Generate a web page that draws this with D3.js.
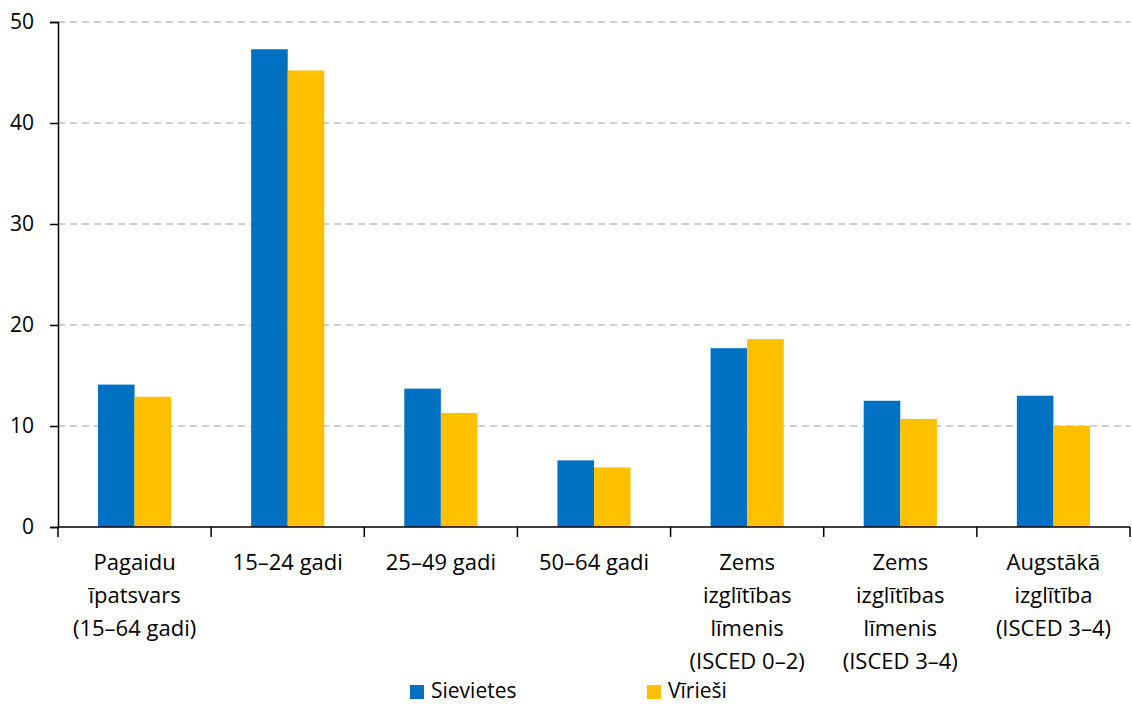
<!DOCTYPE html>
<html lang="lv">
  <head>
    <meta charset="UTF-8">
    <title>Pagaidu darbs</title>
    <style>
      body { margin: 0; background: #fff; }
      text { font-family: "Open Sans", Lato, sans-serif; fill: #000; }
    </style>
  </head>
  <body>
    <div id="chart"></div>
    <script src="https://d3js.org/d3.v7.js"></script>
    <script>
      // category labels (split in lines)
      var categories = [
        ["Pagaidu", "īpatsvars", "(15–64 gadi)"],
        ["15–24 gadi"],
        ["25–49 gadi"],
        ["50–64 gadi"],
        ["Zems", "izglītības", "līmenis", "(ISCED 0–2)"],
        ["Zems", "izglītības", "līmenis", "(ISCED 3–4)"],
        ["Augstākā", "izglītība", "(ISCED 3–4)"]
      ];
      var seriesNames = ["Sievietes", "Vīrieši"];
      var women = [14.1, 47.3, 13.7, 6.6, 17.7, 12.5, 13.0];
      var men = [12.9, 45.2, 11.3, 5.9, 18.6, 10.7, 10.0];
      var yTicks = [0, 10, 20, 30, 40, 50];
      var colors = ["#0070C0", "#FFC000"];

      var margin = {top: 22, right: 2, bottom: 177, left: 58},
          W = 1132, H = 704,
          width = W - margin.left - margin.right,
          height = H - margin.top - margin.bottom;

      var svg = d3.select("#chart").append("svg")
          .attr("width", W).attr("height", H);
      var g = svg.append("g")
          .attr("transform", "translate(" + margin.left + "," + margin.top + ")");

      var idx = d3.range(categories.length);
      var x0 = d3.scaleBand().domain(idx).range([0, width]).paddingInner(0).paddingOuter(0);
      var x1 = d3.scaleBand().domain([0, 1]).range([40, x0.bandwidth() - 40]);
      var y = d3.scaleLinear().domain([0, 50]).range([height, 0]);

      // gridlines
      g.selectAll(".grid").data(yTicks.filter(function(d){ return d > 0; }))
        .enter().append("line")
          .attr("x1", 0).attr("x2", width)
          .attr("y1", function(d){ return y(d); }).attr("y2", function(d){ return y(d); })
          .attr("stroke", "#BFBFBF").attr("stroke-width", 1.5)
          .attr("stroke-dasharray", "7,5");

      // bars
      var groups = g.selectAll(".cat").data(idx).enter().append("g")
          .attr("transform", function(i){ return "translate(" + x0(i) + ",0)"; });
      groups.selectAll("rect")
        .data(function(i){ return [women[i], men[i]]; })
        .enter().append("rect")
          .attr("x", function(d, j){ return x1(j); })
          .attr("width", x1.bandwidth())
          .attr("y", function(d){ return y(d); })
          .attr("height", function(d){ return height - y(d); })
          .attr("fill", function(d, j){ return colors[j]; });

      // y axis
      var yAxis = g.append("g")
          .call(d3.axisLeft(y).tickValues(yTicks).tickSize(8).tickPadding(16));
      yAxis.select(".domain").attr("stroke", "#000").attr("stroke-width", 1.5);
      yAxis.selectAll(".tick line").attr("stroke", "#000").attr("stroke-width", 1.5);
      yAxis.selectAll("text").style("font-size", "21px").style("font-family", "'Open Sans', sans-serif").attr("fill", "#000");

      // x axis
      var xAxisG = g.append("g").attr("transform", "translate(0," + height + ")");
      xAxisG.append("line").attr("x1", 0).attr("x2", width)
        .attr("stroke", "#000").attr("stroke-width", 1.5);
      xAxisG.selectAll(".xt").data(d3.range(categories.length + 1)).enter().append("line")
        .attr("x1", function(i){ return i * x0.bandwidth(); })
        .attr("x2", function(i){ return i * x0.bandwidth(); })
        .attr("y1", 0).attr("y2", 10)
        .attr("stroke", "#000").attr("stroke-width", 1.5);
      xAxisG.selectAll(".xl").data(idx).enter().append("text")
        .attr("text-anchor", "middle")
        .style("font-size", "22px")
        .attr("transform", function(i){ return "translate(" + (x0(i) + x0.bandwidth() / 2) + ",43)"; })
        .selectAll("tspan").data(function(i){ return categories[i]; })
        .enter().append("tspan")
          .attr("x", 0).attr("dy", function(d, k){ return k === 0 ? 0 : 33; })
          .text(function(d){ return d; });

      // legend
      var legendX = [410, 647];
      var legend = svg.selectAll(".leg").data(seriesNames).enter().append("g")
          .attr("transform", function(d, i){ return "translate(" + legendX[i] + ",685)"; });
      legend.append("rect").attr("width", 14).attr("height", 14)
          .attr("fill", function(d, i){ return colors[i]; });
      legend.append("text").attr("x", 21).attr("y", 13)
          .style("font-size", "21px").text(function(d){ return d; });
    </script>
  </body>
</html>
